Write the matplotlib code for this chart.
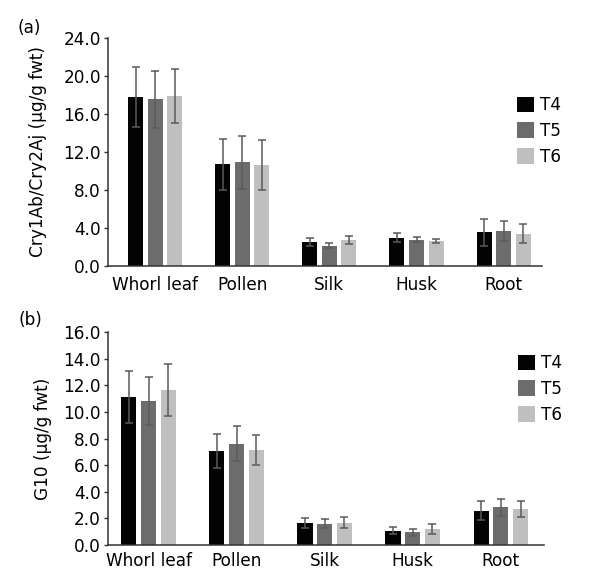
import matplotlib
matplotlib.use("Agg")
import matplotlib.pyplot as plt
import numpy as np

plt.rcParams['font.family'] = ['DejaVu Sans']

categories = ["Whorl leaf", "Pollen", "Silk", "Husk", "Root"]
series = ["T4", "T5", "T6"]

cry_t4 = [17.8, 10.7, 2.56, 2.98, 3.55]
cry_t5 = [17.55, 10.9, 2.14, 2.77, 3.68]
cry_t6 = [17.9, 10.65, 2.78, 2.6, 3.37]
cry_err_t4 = [3.2, 2.65, 0.43, 0.45, 1.4]
cry_err_t5 = [3.0, 2.8, 0.27, 0.25, 1.02]
cry_err_t6 = [2.8, 2.6, 0.43, 0.23, 1.0]

g10_t4 = [11.15, 7.07, 1.66, 1.07, 2.58]
g10_t5 = [10.85, 7.62, 1.6, 0.95, 2.83]
g10_t6 = [11.65, 7.17, 1.69, 1.18, 2.7]
g10_err_t4 = [1.95, 1.25, 0.4, 0.25, 0.73]
g10_err_t5 = [1.8, 1.32, 0.36, 0.25, 0.65]
g10_err_t6 = [1.97, 1.13, 0.42, 0.37, 0.62]

colors = ["#030303", "#6c6c6c", "#bfbfbf"]
FS = 12.2
W, H = 610, 582

fig = plt.figure(figsize=(W/100, H/100), dpi=100)
ax1 = fig.add_axes([108/W, 1-266/H, (542-108)/W, (266-38)/H])
ax2 = fig.add_axes([108/W, 1-545/H, (544-108)/W, (545-332)/H])

def draw(ax, vals, errs, ymax, ystep, ylabel, xlim, xpad, lpad, leg_xy):
    x = np.arange(len(categories))
    off = 0.224
    w = 0.172
    for i, (v, e) in enumerate(zip(vals, errs)):
        ax.bar(x + (i-1)*off, v, w, color=colors[i], linewidth=0,
               yerr=e, ecolor="#5a5a5a", capsize=2.8,
               error_kw=dict(elinewidth=1.1, capthick=1.1),
               label=series[i], zorder=2)
    ax.set_xlim(*xlim)
    ax.set_ylim(0, ymax)
    ticks = np.arange(0, ymax + 0.01, ystep)
    ax.set_yticks(ticks)
    ax.set_yticklabels([f"{t:.1f}" for t in ticks], fontsize=FS)
    ax.set_xticks(x)
    ax.set_xticklabels(categories, fontsize=FS)
    ax.tick_params(axis='x', length=0, pad=xpad)
    ax.tick_params(axis='y', length=3, width=1, color="#333333", pad=2)
    for s in ["top", "right"]:
        ax.spines[s].set_visible(False)
    for s in ["left", "bottom"]:
        ax.spines[s].set_color("#333333")
        ax.spines[s].set_linewidth(1.1)
    ax.set_ylabel(ylabel, fontsize=FS, labelpad=lpad)
    ax.legend(frameon=False, fontsize=FS, handlelength=1.02, handleheight=1.02,
              labelspacing=0.47, handletextpad=0.35, loc='upper left',
              bbox_to_anchor=(leg_xy[0]/W, 1-leg_xy[1]/H), bbox_transform=fig.transFigure,
              borderaxespad=0, borderpad=0)

draw(ax1, [cry_t4, cry_t5, cry_t6], [cry_err_t4, cry_err_t5, cry_err_t6], 24.0, 4.0,
     "Cry1Ab/Cry2Aj (μg/g fwt)", (-0.54, 4.44), 7, 11.5, (517, 96))
draw(ax2, [g10_t4, g10_t5, g10_t6], [g10_err_t4, g10_err_t5, g10_err_t6], 16.0, 2.0,
     "G10 (μg/g fwt)", (-0.46, 4.49), 5, 8, (518, 354))

fig.text(29/W, 1-28/H, "(a)", fontsize=FS, ha='center', va='center')
fig.text(30/W, 1-320/H, "(b)", fontsize=FS, ha='center', va='center')

fig.savefig("out.png", dpi=100)
